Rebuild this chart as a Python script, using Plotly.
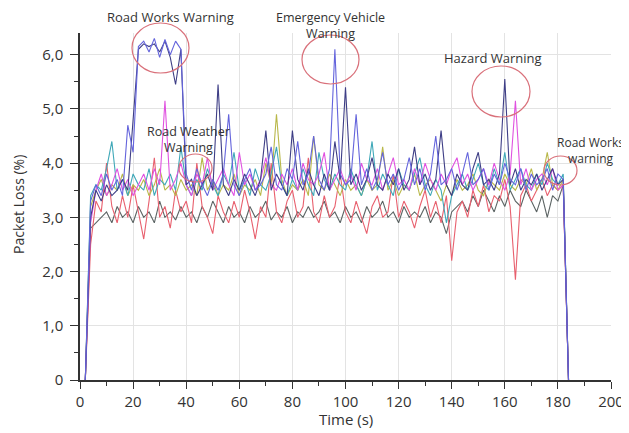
import plotly.graph_objects as go

# ---- data ----
time_s = [2 + 2 * i for i in range(92)]

slate_blue = [
    0.0, 3.3, 3.6, 3.4, 3.8, 3.5, 3.7, 3.4, 4.7, 4.2,
    6.15, 6.25, 6.05, 6.3, 5.95, 6.28, 6.0, 6.25, 6.1, 3.8,
    3.5, 3.9, 3.6, 3.4, 3.7, 3.5, 3.8, 4.9, 3.6, 3.4,
    3.7, 3.9, 3.5, 3.6, 3.8, 4.3, 3.6, 3.5, 3.9, 3.7,
    4.4, 3.6, 3.8, 4.5, 3.7, 3.5, 3.9, 6.1, 3.8, 3.6,
    3.7, 4.9, 3.6, 3.9, 3.5, 3.7, 4.2, 3.6, 3.8, 3.5,
    3.7, 4.1, 3.6, 3.9, 3.5, 3.8, 4.5, 3.6, 3.7, 3.9,
    3.5, 3.8, 4.2, 3.6, 3.7, 3.9, 3.5, 3.8, 3.6, 4.0,
    3.7, 3.6, 3.9, 3.5, 3.8, 3.6, 3.7, 3.9, 3.5, 3.8,
    3.7, 0.0]

navy = [
    0.0, 3.0, 3.5, 3.3, 3.6, 3.4, 3.5, 3.7, 3.5, 4.75,
    6.1, 6.2, 6.15, 6.2, 6.05, 6.25, 5.95, 5.45, 6.1, 3.6,
    3.7, 3.4, 3.6, 3.8, 3.5, 5.45, 3.6, 3.4, 3.7, 3.5,
    3.8, 3.6, 3.4, 3.7, 4.6, 3.5, 3.8, 3.6, 3.4, 4.6,
    3.7, 3.5, 3.9, 3.6, 3.4, 3.8, 3.5, 4.4, 3.7, 5.4,
    3.6, 3.8, 3.5, 3.7, 4.1, 3.6, 3.5, 3.8, 3.6, 3.9,
    3.5, 3.7, 4.3, 3.6, 3.8, 3.5, 3.7, 4.6, 3.6, 3.4,
    3.8, 3.6, 3.5, 3.9, 4.2, 3.6, 3.7, 3.5, 3.8, 5.55,
    3.6, 3.9, 3.5, 3.7, 3.6, 3.8, 3.5, 3.7, 3.9, 3.6,
    3.7, 0.0]

magenta = [
    0.0, 2.9, 3.5, 3.8, 3.4, 3.6, 3.9, 3.5, 3.7, 3.4,
    3.6, 3.8, 3.5, 3.9, 3.6, 5.15, 3.5, 3.7, 4.0, 3.6,
    3.4, 3.8, 3.6, 4.1, 3.5, 3.7, 3.9, 3.6, 3.4, 4.2,
    3.6, 3.8, 3.5, 3.7, 4.1, 3.6, 3.5, 3.8, 3.6, 3.9,
    3.5, 4.0, 3.7, 3.6, 3.8, 4.2, 3.5, 3.7, 3.9, 3.6,
    3.8, 3.5, 4.0, 3.7, 3.6, 3.9, 3.5, 3.8, 4.1, 3.6,
    3.7, 3.5, 3.9, 3.6, 4.0, 3.7, 3.5, 3.8, 3.6, 3.9,
    4.1, 3.6, 3.8, 3.5, 3.7, 3.9, 3.6, 4.0, 3.7, 3.5,
    3.8, 5.15, 3.6, 3.9, 3.5, 3.7, 3.8, 3.6, 3.9, 3.5,
    3.6, 0.0]

red = [
    0.0, 2.5, 3.3, 3.1, 4.0, 3.2, 2.9, 3.4, 3.0, 3.6,
    3.1, 2.6, 3.3, 4.1, 3.0, 3.2, 2.8, 3.5, 3.1, 3.3,
    2.9, 4.0, 3.2, 3.0, 2.7, 3.4, 3.1, 2.9, 3.3, 3.0,
    3.5, 3.1, 2.6, 3.2, 3.0, 4.0, 3.1, 2.9, 3.3, 3.5,
    3.0, 3.2, 4.1, 3.1, 2.9, 3.4, 3.0, 3.2, 3.8, 3.1,
    2.9, 3.3, 3.0, 2.7, 3.2, 3.4, 3.0, 3.1, 3.8, 3.0,
    3.3, 3.1, 2.8, 3.2, 3.5, 3.0, 3.3, 2.9, 3.4, 2.2,
    3.1, 3.3, 3.0, 3.5, 3.2, 3.6, 3.1, 3.4, 3.3, 3.7,
    3.2, 1.85, 3.4, 3.6, 3.3, 3.5, 3.7, 3.4, 3.6, 3.5,
    3.6, 0.0]

grey = [
    0.0, 2.8, 2.9, 3.0, 3.1, 2.9, 3.2, 3.0, 3.1, 2.9,
    3.2, 3.0, 3.1, 2.9, 3.3, 3.0, 3.1, 2.95, 3.2, 3.0,
    3.1, 2.9, 3.2, 3.0, 3.3, 3.1, 2.9, 3.2, 3.0, 3.1,
    2.9, 3.2, 3.0, 3.1, 3.3, 2.95, 3.1, 3.0, 3.2, 2.9,
    3.1, 3.0, 3.2, 3.0, 3.1, 3.3, 3.0, 3.1, 2.9, 3.2,
    3.0, 3.1, 2.9, 3.2, 3.0, 3.1, 3.3, 3.0, 3.1, 2.9,
    3.2, 3.0, 3.1, 3.0, 3.2, 2.9, 3.1, 3.0, 2.7, 3.1,
    3.2, 3.3, 3.1, 3.4, 3.2, 3.5, 3.3, 3.1, 3.4, 3.2,
    3.5, 3.3, 3.2, 3.5, 3.3, 3.1, 3.4, 3.0, 3.4, 3.3,
    3.6, 0.0]

teal = [
    0.0, 3.4, 3.6, 3.5, 3.9, 4.4, 3.5, 3.7, 3.4, 3.8,
    3.6, 3.5, 3.9, 3.4, 3.7, 3.6, 3.8, 3.5, 4.3, 3.6,
    3.4, 3.7, 3.5, 3.9, 3.6, 3.4, 3.8, 3.6, 4.2, 3.5,
    3.7, 3.4, 3.9, 3.6, 3.5, 3.8, 4.3, 3.6, 3.4, 3.7,
    3.5, 3.9, 3.6, 3.4, 4.2, 3.7, 3.5, 3.8, 3.6, 3.5,
    3.9, 3.6, 3.4, 3.7, 4.4, 3.5, 3.8, 3.6, 3.4, 3.9,
    3.6, 3.5, 3.8, 4.1, 3.6, 3.4, 3.7, 3.5, 2.9, 3.4,
    3.6, 3.8, 3.5, 3.7, 4.0, 3.6, 3.5, 3.9, 3.6, 4.2,
    3.5, 3.7, 3.9, 3.6, 3.5, 3.8, 3.6, 4.0, 3.7, 3.6,
    3.8, 0.0]

olive = [
    0.0, 3.2, 3.5, 3.7, 3.4, 3.6, 3.5, 3.8, 3.4, 3.6,
    3.5, 3.7, 3.4, 3.6, 3.9, 3.5, 3.6, 3.4, 3.7, 3.5,
    3.6, 3.4, 4.1, 3.5, 3.7, 3.4, 3.6, 3.5, 3.8, 3.4,
    3.6, 3.5, 3.7, 3.4, 4.0, 3.6, 4.9, 3.7, 3.4, 3.6,
    3.5, 3.7, 3.4, 4.5, 3.6, 3.5, 3.8, 3.6, 3.4, 3.7,
    3.5, 3.6, 3.4, 3.7, 3.5, 3.6, 4.3, 3.5, 3.7, 3.4,
    3.6, 3.5, 3.8, 3.4, 3.6, 3.7, 3.5, 3.3, 3.6, 3.4,
    3.7, 3.5, 3.6, 3.8, 3.5, 3.4, 3.7, 3.6, 3.5, 3.8,
    3.6, 3.5, 3.7, 3.6, 3.9, 3.5, 3.7, 4.2, 3.6, 3.5,
    3.7, 0.0]

series = [
    ("Grey", grey, "#5c6464"),
    ("Red", red, "#e8606e"),
    ("Olive", olive, "#b9b84a"),
    ("Teal", teal, "#3fa8b8"),
    ("Magenta", magenta, "#e052e0"),
    ("Navy", navy, "#3e3e86"),
    ("Slate blue", slate_blue, "#6464dc"),
]

y_tick_vals = [0, 1, 2, 3, 4, 5, 6]
y_tick_text = ["0", "1,0", "2,0", "3,0", "4,0", "5,0", "6,0"]
x_tick_vals = [0, 20, 40, 60, 80, 100, 120, 140, 160, 180, 200]

# ---- layout helpers ----
# The page body has an 8px margin, so the figure is made 8px smaller and
# its plot area is placed so that it lands at page pixels x 80..611, y 33..380.
OFF = 8
PAGE_W, PAGE_H = 629, 433
W, H = PAGE_W - OFF, PAGE_H - OFF
PL, PR, PT, PB = 80, 611, 33, 380          # plot area in page pixels
L, T = PL - OFF, PT - OFF
R, B = W - (PR - OFF), H - (PB - OFF)
PW, PH = PR - PL, PB - PT


def px(x):
    return (x - PL) / PW


def py(y):
    return (PB - y) / PH


fig = go.Figure()
for name, vals, col in series:
    fig.add_trace(go.Scatter(x=time_s, y=vals, mode="lines", name=name,
                             line=dict(color=col, width=1.1)))

font_fam = "Open Sans, DejaVu Sans, sans-serif"
tick_font = dict(size=15, color="#333333", family=font_fam)

fig.update_layout(
    width=W, height=H,
    margin=dict(l=L, r=R, t=T, b=B, autoexpand=False),
    paper_bgcolor="white", plot_bgcolor="white",
    showlegend=False,
    font=dict(family=font_fam, color="#333333"),
    xaxis=dict(range=[0, 200], tickvals=x_tick_vals, showgrid=True,
               gridcolor="#e3e3e3", gridwidth=1, zeroline=False,
               showline=True, linecolor="#333333", linewidth=1.5,
               ticks="outside", ticklen=7, tickcolor="#333333",
               tickfont=tick_font, automargin=False,
               minor=dict(dtick=10, tick0=0, ticks="outside", ticklen=4,
                          tickcolor="#333333", showgrid=False)),
    yaxis=dict(range=[0, 6.4], tickvals=y_tick_vals, ticktext=y_tick_text,
               showgrid=True, gridcolor="#e3e3e3", gridwidth=1, zeroline=False,
               showline=True, linecolor="#333333", linewidth=1.5,
               ticks="outside", ticklen=8, tickcolor="#333333",
               tickfont=tick_font, automargin=False, ticklabelstandoff=4,
               minor=dict(dtick=0.5, tick0=0, ticks="outside", ticklen=4,
                          tickcolor="#333333", showgrid=False)),
)

labels = [
    ("Road Works Warning", 170, 17, 13),
    ("Emergency Vehicle<br>Warning", 330, 25, 12.5),
    ("Road Weather<br>Warning", 188, 139, 12.5),
    ("Hazard Warning", 493, 58, 13),
    ("Road Works<br>warning", 590, 150, 12),
]
for text, x, y, size in labels:
    fig.add_annotation(text=text, x=px(x), y=py(y), xref="paper", yref="paper",
                       showarrow=False, xanchor="center", yanchor="middle",
                       align="center", borderpad=0,
                       font=dict(size=size, color="#333333", family=font_fam))

circles = [
    (132, 23, 189, 73),
    (302, 35, 359, 84),
    (472, 66, 530, 117),
    (179, 154, 212, 182),
    (544, 156, 577, 185),
]
for x0, y0, x1, y1 in circles:
    fig.add_shape(type="circle", xref="paper", yref="paper",
                  x0=px(x0), x1=px(x1), y0=py(y1), y1=py(y0),
                  line=dict(color="#d9707a", width=1.2))

fig.add_annotation(text="Time (s)", x=px(346), y=py(419), xref="paper", yref="paper",
                   showarrow=False, xanchor="center", yanchor="middle",
                   font=dict(size=15, color="#333333", family=font_fam))
fig.add_annotation(text="Packet Loss (%)", x=px(18), y=py(205), xref="paper", yref="paper",
                   showarrow=False, textangle=-90, xanchor="center", yanchor="middle",
                   font=dict(size=14, color="#333333", family=font_fam))

fig.write_html("out.html")
